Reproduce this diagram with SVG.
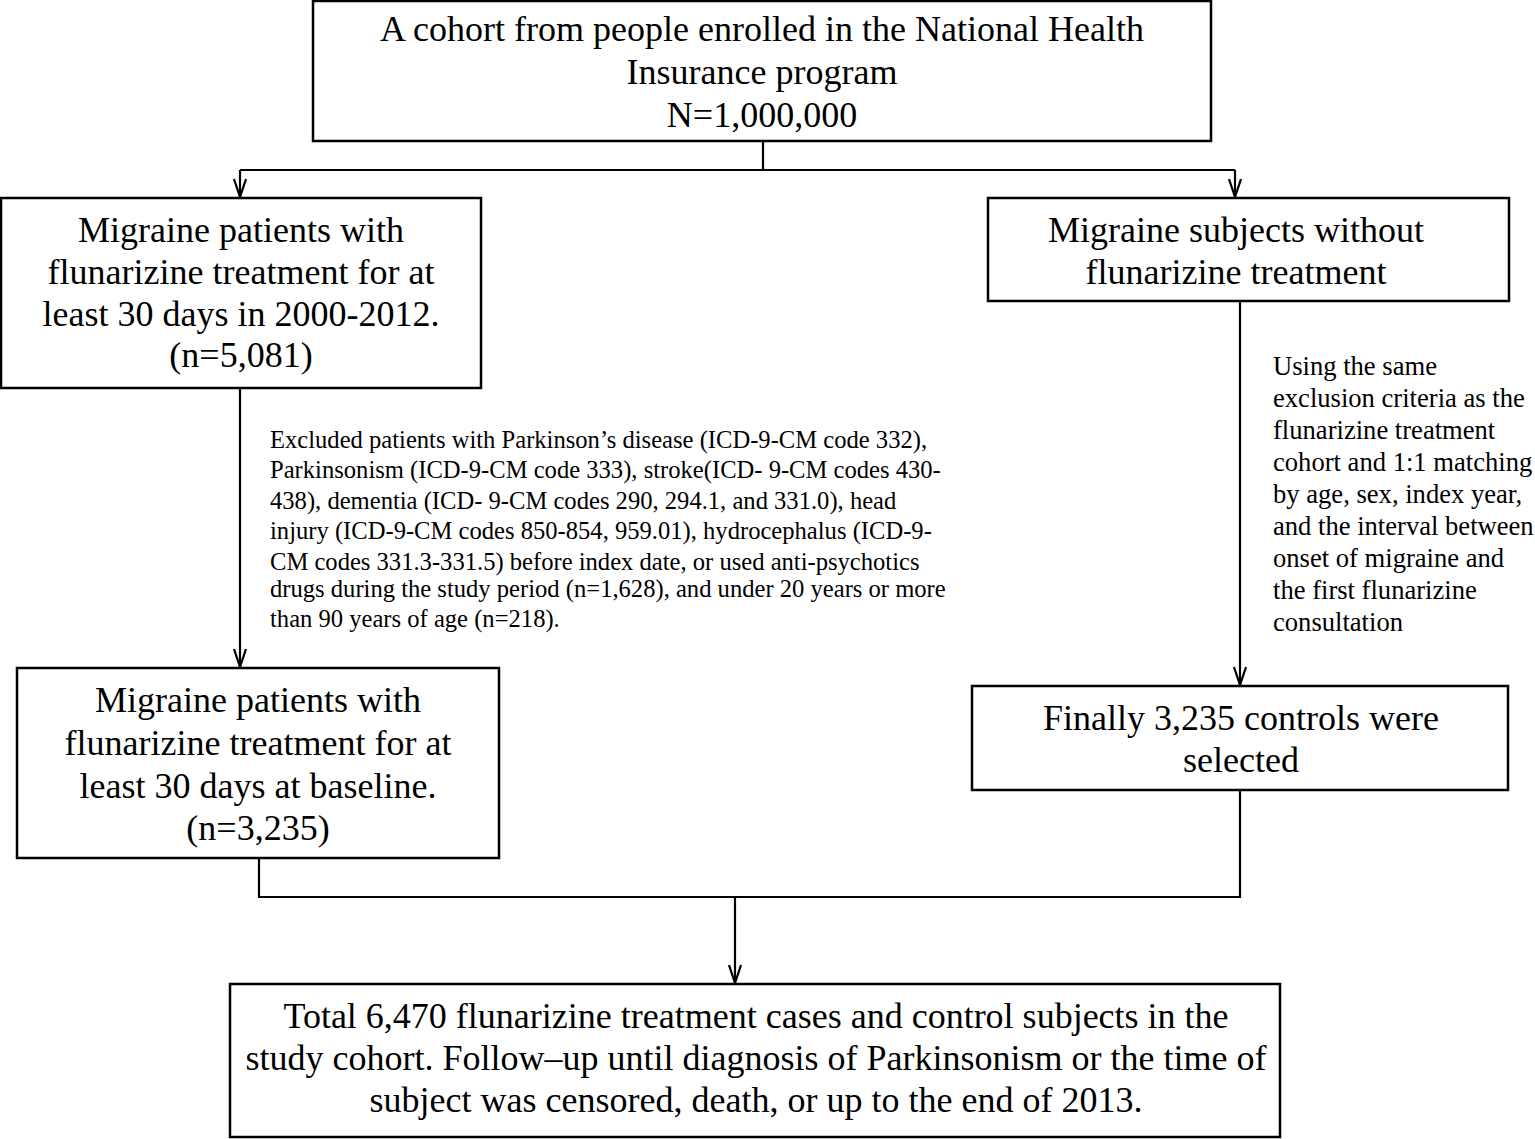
<svg xmlns="http://www.w3.org/2000/svg" width="1535" height="1139" viewBox="0 0 1535 1139">
<style>
.box{fill:#fff;stroke:#000;stroke-width:2.5}
.t{font-family:"Liberation Serif","Times New Roman",serif;font-size:36px;fill:#000;text-anchor:middle}
.s{font-family:"Liberation Serif","Times New Roman",serif;font-size:24.6px;fill:#000}
.r{font-family:"Liberation Serif","Times New Roman",serif;font-size:26.6px;fill:#000}
.c{fill:none;stroke:#000;stroke-width:2.2}
</style>
<defs>
<marker id="arr" markerWidth="20" markerHeight="14" refX="19" refY="7" orient="auto" markerUnits="userSpaceOnUse" viewBox="0 0 20 14">
<path d="M1,1 L19,7 L1,13" fill="none" stroke="#000" stroke-width="2.2"/>
</marker>
</defs>
<rect width="1535" height="1139" fill="#fff"/>
<g id="connectors">
<path class="c" d="M763,141 V170"/>
<path class="c" d="M240,170 H1235"/>
<path class="c" d="M240,170 V197" marker-end="url(#arr)"/>
<path class="c" d="M1235,170 V197" marker-end="url(#arr)"/>
<path class="c" d="M240,388 V667" marker-end="url(#arr)"/>
<path class="c" d="M1240,301 V685" marker-end="url(#arr)"/>
<path class="c" d="M259,858 V897 H1240 V790"/>
<path class="c" d="M735,897 V983" marker-end="url(#arr)"/>
</g>
<g id="n_cohort">
<rect class="box" x="313" y="1" width="898" height="140"/>
<text class="t" x="762" y="41">A cohort from people enrolled in the National Health</text>
<text class="t" x="762" y="84">Insurance program</text>
<text class="t" x="762" y="127">N=1,000,000</text>
</g>
<g id="n_flun">
<rect class="box" x="1" y="198" width="480" height="190"/>
<text class="t" x="241" y="242">Migraine patients with</text>
<text class="t" x="241" y="284">flunarizine treatment for at</text>
<text class="t" x="241" y="326">least 30 days in 2000-2012.</text>
<text class="t" x="241" y="367">(n=5,081)</text>
</g>
<g id="n_noflun">
<rect class="box" x="988" y="198" width="521" height="103"/>
<text class="t" x="1236" y="242">Migraine subjects without</text>
<text class="t" x="1236" y="284">flunarizine treatment</text>
</g>
<g id="exclusion_note">
<text class="s" x="270" y="448">Excluded patients with Parkinson’s disease (ICD-9-CM code 332),</text>
<text class="s" x="270" y="478">Parkinsonism (ICD-9-CM code 333), stroke(ICD- 9-CM codes 430-</text>
<text class="s" x="270" y="509">438), dementia (ICD- 9-CM codes 290, 294.1, and 331.0), head</text>
<text class="s" x="270" y="539">injury (ICD-9-CM codes 850-854, 959.01), hydrocephalus (ICD-9-</text>
<text class="s" x="270" y="570">CM codes 331.3-331.5) before index date, or used anti-psychotics</text>
<text class="s" x="270" y="597">drugs during the study period (n=1,628), and under 20 years or more</text>
<text class="s" x="270" y="627">than 90 years of age (n=218).</text>
</g>
<g id="matching_note">
<text class="r" x="1273" y="375">Using the same</text>
<text class="r" x="1273" y="407">exclusion criteria as the</text>
<text class="r" x="1273" y="439">flunarizine treatment</text>
<text class="r" x="1273" y="471">cohort and 1:1 matching</text>
<text class="r" x="1273" y="503">by age, sex, index year,</text>
<text class="r" x="1273" y="535">and the interval between</text>
<text class="r" x="1273" y="567">onset of migraine and</text>
<text class="r" x="1273" y="599">the first flunarizine</text>
<text class="r" x="1273" y="631">consultation</text>
</g>
<g id="n_baseline">
<rect class="box" x="17" y="668" width="482" height="190"/>
<text class="t" x="258" y="712">Migraine patients with</text>
<text class="t" x="258" y="755">flunarizine treatment for at</text>
<text class="t" x="258" y="798">least 30 days at baseline.</text>
<text class="t" x="258" y="840">(n=3,235)</text>
</g>
<g id="n_controls">
<rect class="box" x="972" y="686" width="536" height="104"/>
<text class="t" x="1241" y="730">Finally 3,235 controls were</text>
<text class="t" x="1241" y="772">selected</text>
</g>
<g id="n_total">
<rect class="box" x="230" y="984" width="1050" height="153"/>
<text class="t" x="756" y="1028">Total 6,470 flunarizine treatment cases and control subjects in the</text>
<text class="t" x="756" y="1070">study cohort. Follow–up until diagnosis of Parkinsonism or the time of</text>
<text class="t" x="756" y="1112">subject was censored, death, or up to the end of 2013.</text>
</g>
</svg>
